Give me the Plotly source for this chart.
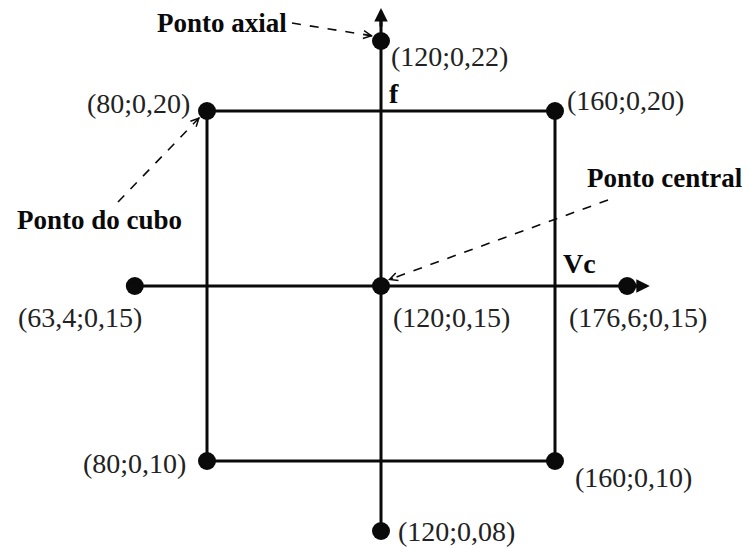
import plotly.graph_objects as go

# ---- data ----
vc_values = [80, 160, 80, 160, 63.4, 176.6, 120, 120, 120]
f_values = [0.10, 0.10, 0.20, 0.20, 0.15, 0.15, 0.08, 0.22, 0.15]
point_labels = ["(80;0,10)", "(160;0,10)", "(80;0,20)", "(160;0,20)",
                "(63,4;0,15)", "(176,6;0,15)", "(120;0,08)", "(120;0,22)", "(120;0,15)"]
axis_names = ["Vc", "f"]
callouts = ["Ponto axial", "Ponto do cubo", "Ponto central"]

# page body has an 8px margin, so the figure is offset by 8px in the window
OFF = 8
W, H = 750 - OFF, 549 - OFF
SX, SY = 4.35, 3500.0  # pixels per unit
XR = [80 + (OFF - 207) / SX, 80 + (750 - 207) / SX]
YR = [0.20 - (549 - 111) / SY, 0.20 + (111 - OFF) / SY]


def to_data(px, py):
    """window pixel -> data coords"""
    x = 80 + (px - 207) / SX
    y = 0.20 - (py - 111) / SY
    return x, y


BLACK = "#0a0a0a"
FONT = "Liberation Serif"

fig = go.Figure()

cube_x = vc_values[:4]
cube_y = f_values[:4]
center_x = vc_values[8]
center_y = f_values[8]

shapes = []
shapes.append(dict(type="rect", xref="x", yref="y", x0=min(cube_x), x1=max(cube_x),
                   y0=min(cube_y), y1=max(cube_y), line=dict(color=BLACK, width=3)))
x_tip = max(vc_values) + 5.2
y_tip = max(f_values) + 0.0094
shapes.append(dict(type="line", xref="x", yref="y", x0=min(vc_values), x1=x_tip - 2,
                   y0=center_y, y1=center_y, line=dict(color=BLACK, width=3)))
shapes.append(dict(type="line", xref="x", yref="y", x0=center_x, x1=center_x,
                   y0=min(f_values), y1=y_tip - 0.002, line=dict(color=BLACK, width=3)))

annotations = []
annotations.append(dict(x=x_tip, y=center_y, xref="x", yref="y", ax=-20, ay=0, text="",
                        showarrow=True, arrowhead=2, arrowsize=0.9, arrowwidth=3,
                        arrowcolor=BLACK, standoff=0))
annotations.append(dict(x=center_x, y=y_tip, xref="x", yref="y", ax=0, ay=20, text="",
                        showarrow=True, arrowhead=2, arrowsize=0.9, arrowwidth=3,
                        arrowcolor=BLACK, standoff=0))

fig.add_trace(go.Scatter(x=vc_values, y=f_values, mode="markers",
                         marker=dict(size=18, color=BLACK), hoverinfo="skip",
                         showlegend=False))

# point labels: (xanchor, xshift, yshift)
label_style = [
    ("right", -19, -2),   # (80;0,10)
    ("left", 18, -16),    # (160;0,10)
    ("right", -15, 8),    # (80;0,20)
    ("left", 10, 11),     # (160;0,20)
    ("center", -55, -31), # (63,4;0,15)
    ("center", 11, -31),  # (176,6;0,15)
    ("left", 15, 0),      # (120;0,08)
    ("left", 8, -15),     # (120;0,22)
    ("left", 10, -31),    # (120;0,15)
]
for x, y, t, (xa, xs, ys) in zip(vc_values, f_values, point_labels, label_style):
    annotations.append(dict(x=x, y=y, xref="x", yref="y", text=t, showarrow=False,
                            xanchor=xa, yanchor="middle", xshift=xs, yshift=ys,
                            font=dict(family=FONT, size=28, color="#222222")))

annotations.append(dict(x=center_x, y=max(cube_y), xref="x", yref="y", text="<b>" + axis_names[1] + "</b>",
                        showarrow=False, xanchor="left", yanchor="middle", xshift=6, yshift=18,
                        font=dict(family=FONT, size=28, color=BLACK)))
annotations.append(dict(x=max(cube_x), y=center_y, xref="x", yref="y", text="<b>" + axis_names[0] + "</b>",
                        showarrow=False, xanchor="left", yanchor="middle", xshift=6, yshift=23,
                        font=dict(family=FONT, size=28, color=BLACK)))

callout_spec = [
    (callouts[0], 222, 23, 292, 23, 373, 36),
    (callouts[1], 99, 220, 118, 202, 200, 117),
    (callouts[2], 665, 178, 608, 200, 388, 280),
]
for text, cx, cy, tx, ty, hx, hy in callout_spec:
    x0, y0 = to_data(cx, cy)
    annotations.append(dict(x=x0, y=y0, xref="x", yref="y", text="<b>" + text + "</b>",
                            showarrow=False, xanchor="center", yanchor="middle",
                            font=dict(family=FONT, size=27, color=BLACK)))
    a0 = to_data(tx, ty)
    a1 = to_data(hx, hy)
    shapes.append(dict(type="line", xref="x", yref="y", x0=a0[0], y0=a0[1], x1=a1[0], y1=a1[1],
                       line=dict(color=BLACK, width=1.6, dash="dash")))
    dx, dy = hx - tx, hy - ty
    n = (dx * dx + dy * dy) ** 0.5
    annotations.append(dict(x=a1[0], y=a1[1], xref="x", yref="y", text="",
                            ax=-7 * dx / n, ay=-7 * dy / n, showarrow=True,
                            arrowhead=5, arrowsize=1.2, arrowwidth=1.3,
                            arrowcolor=BLACK, standoff=0))

fig.update_layout(
    width=W, height=H,
    margin=dict(l=0, r=0, t=0, b=0),
    paper_bgcolor="white", plot_bgcolor="white",
    xaxis=dict(range=XR, visible=False, fixedrange=True),
    yaxis=dict(range=YR, visible=False, fixedrange=True),
    shapes=shapes, annotations=annotations,
    showlegend=False,
)

fig.write_html("out.html")
